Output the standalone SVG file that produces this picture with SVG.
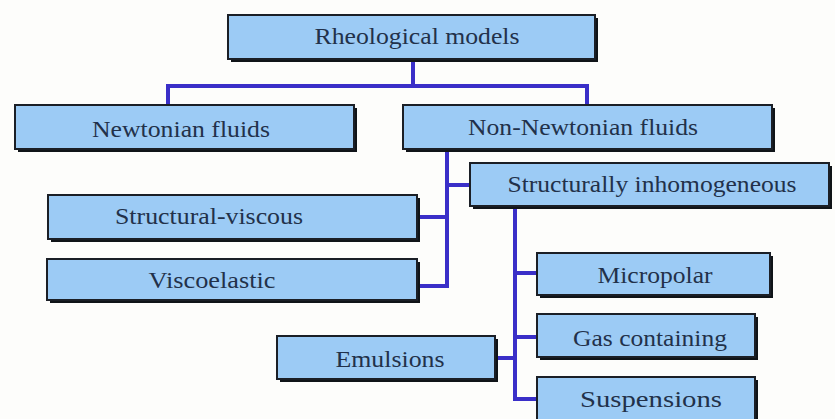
<svg xmlns="http://www.w3.org/2000/svg" width="835" height="419" viewBox="0 0 835 419">
<style>
.bg{fill:#fdfdfb}
.sh{fill:#101418}
.bx{fill:#9ccbf5;stroke:#1b1f26;stroke-width:2}
.t{font-family:"Liberation Serif","DejaVu Serif","Times New Roman",serif;font-size:24px;fill:#22314a;text-anchor:middle}
.c{fill:none;stroke:#3a2fc8;stroke-width:4}
</style>
<rect class="bg" x="0" y="0" width="835" height="419"/>
<g id="connectors">
<path class="c" d="M413,62 V86 M168,105 V86 H587 V105"/>
<path class="c" d="M447,152 V286 H420 M420,217 H447 M447,185 H470"/>
<path class="c" d="M515,209 V399 H537 M515,273 H537 M515,337 H537 M498,358 H515"/>
</g>
<g id="rheological">
<rect class="sh" x="231" y="18" width="367" height="44"/>
<rect class="bx" x="228" y="15" width="367" height="44"/>
<text class="t" x="417" y="44" textLength="205" lengthAdjust="spacingAndGlyphs">Rheological models</text>
</g>
<g id="newtonian">
<rect class="sh" x="18" y="108" width="339" height="44"/>
<rect class="bx" x="15" y="105" width="339" height="44"/>
<text class="t" x="181" y="137" textLength="178" lengthAdjust="spacingAndGlyphs">Newtonian fluids</text>
</g>
<g id="non-newtonian">
<rect class="sh" x="406" y="108" width="369" height="44"/>
<rect class="bx" x="403" y="105" width="369" height="44"/>
<text class="t" x="583" y="135" textLength="230" lengthAdjust="spacingAndGlyphs">Non-Newtonian fluids</text>
</g>
<g id="structurally-inhomogeneous">
<rect class="sh" x="473" y="166" width="359" height="43"/>
<rect class="bx" x="470" y="163" width="359" height="43"/>
<text class="t" x="652" y="192" textLength="289" lengthAdjust="spacingAndGlyphs">Structurally inhomogeneous</text>
</g>
<g id="structural-viscous">
<rect class="sh" x="51" y="198" width="369" height="44"/>
<rect class="bx" x="48" y="195" width="369" height="44"/>
<text class="t" x="209" y="224" textLength="188" lengthAdjust="spacingAndGlyphs">Structural-viscous</text>
</g>
<g id="viscoelastic">
<rect class="sh" x="50" y="262" width="370" height="41"/>
<rect class="bx" x="47" y="259" width="370" height="41"/>
<text class="t" x="212" y="288" textLength="127" lengthAdjust="spacingAndGlyphs">Viscoelastic</text>
</g>
<g id="micropolar">
<rect class="sh" x="540" y="256" width="233" height="42"/>
<rect class="bx" x="537" y="253" width="233" height="42"/>
<text class="t" x="655" y="283" textLength="115" lengthAdjust="spacingAndGlyphs">Micropolar</text>
</g>
<g id="gas-containing">
<rect class="sh" x="540" y="317" width="218" height="43"/>
<rect class="bx" x="537" y="314" width="218" height="43"/>
<text class="t" x="650" y="346" textLength="154" lengthAdjust="spacingAndGlyphs">Gas containing</text>
</g>
<g id="suspensions">
<rect class="sh" x="540" y="380" width="218" height="45"/>
<rect class="bx" x="537" y="377" width="218" height="45"/>
<text class="t" x="651" y="407" textLength="142" lengthAdjust="spacingAndGlyphs">Suspensions</text>
</g>
<g id="emulsions">
<rect class="sh" x="280" y="339" width="218" height="43"/>
<rect class="bx" x="277" y="336" width="218" height="43"/>
<text class="t" x="390" y="367" textLength="109" lengthAdjust="spacingAndGlyphs">Emulsions</text>
</g>
</svg>
